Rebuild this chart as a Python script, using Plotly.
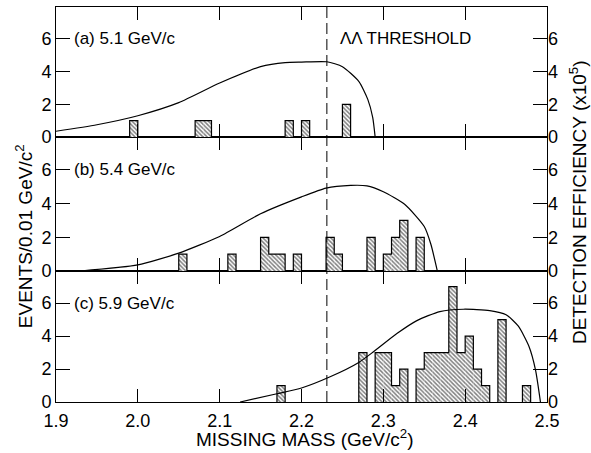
import plotly.graph_objects as go

# ---------------- data ----------------
BIN_W = 0.01
# histogram bins: lower edge of each 0.01 GeV/c^2 bin, and counts
a_bins = [1.99, 2.07, 2.08, 2.18, 2.20, 2.25]
a_counts = [1, 1, 1, 1, 1, 2]
b_bins = [2.05, 2.11, 2.15, 2.16, 2.17, 2.19, 2.23, 2.24, 2.28, 2.30, 2.31, 2.32, 2.34]
b_counts = [1, 1, 2, 1, 1, 1, 2, 1, 2, 1, 2, 3, 2]
c_bins = [2.17, 2.27, 2.29, 2.30, 2.31, 2.32, 2.34, 2.35, 2.36, 2.37, 2.38, 2.39, 2.40,
          2.41, 2.42, 2.44, 2.47]
c_counts = [1, 3, 3, 3, 1, 2, 2, 3, 3, 3, 7, 3, 4, 2, 1, 5, 1]

# detection efficiency curves (x 1e-5)
a_eff_x = [1.9, 1.95, 2.0, 2.05, 2.1, 2.15, 2.18, 2.2, 2.231, 2.25, 2.27, 2.281, 2.287, 2.29]
a_eff_y = [0.35, 0.75, 1.3, 2.1, 3.3, 4.3, 4.55, 4.58, 4.6, 4.3, 3.4, 2.3, 1.2, 0.0]
b_eff_x = [1.93, 2.0, 2.05, 2.1, 2.15, 2.2, 2.23, 2.26, 2.28, 2.30, 2.326, 2.35, 2.358, 2.366]
b_eff_y = [0.0, 0.36, 1.06, 2.05, 3.4, 4.4, 4.92, 5.08, 5.05, 4.7, 3.96, 2.64, 1.6, 0.0]
c_eff_x = [2.125, 2.17, 2.2, 2.235, 2.27, 2.288, 2.317, 2.341, 2.369, 2.398, 2.43, 2.45,
           2.465, 2.478, 2.486, 2.492]
c_eff_y = [0.0, 0.5, 0.85, 1.53, 2.4, 3.05, 4.17, 4.94, 5.49, 5.63, 5.55, 5.3, 4.6, 3.37,
           1.94, 0.0]

panel_labels = ["(a) 5.1 GeV/c", "(b) 5.4 GeV/c", "(c) 5.9 GeV/c"]
threshold = 2.231
threshold_label = "ΛΛ THRESHOLD"
x_ticks = [1.9, 2.0, 2.1, 2.2, 2.3, 2.4, 2.5]
x_ticktext = ["1.9", "2.0", "2.1", "2.2", "2.3", "2.4", "2.5"]
y_ticks = [0, 2, 4, 6]

FONT = "Liberation Sans"
Y_RANGE = [0, 7.95]


def outline(lefts, counts, w=BIN_W):
    xs, ys = [], []
    prev_r = None
    for l, c in sorted(zip(lefts, counts)):
        r = round(l + w, 4)
        if prev_r is None or abs(l - prev_r) > 1e-6:
            if prev_r is not None:
                xs += [prev_r, None]
                ys += [0, None]
            xs.append(l)
            ys.append(0)
        xs += [l, r]
        ys += [c, c]
        prev_r = r
    xs.append(prev_r)
    ys.append(0)
    return xs, ys


fig = go.Figure()

panels = [
    # (bins, counts, eff_x, eff_y, xaxis, yaxis, right yaxis)
    (a_bins, a_counts, a_eff_x, a_eff_y, "x3", "y3", "y6"),
    (b_bins, b_counts, b_eff_x, b_eff_y, "x2", "y2", "y5"),
    (c_bins, c_counts, c_eff_x, c_eff_y, "x", "y", "y4"),
]

for bins, counts, ex, ey, xa, ya, yr in panels:
    centers = [b + BIN_W / 2 for b in bins]
    fig.add_trace(go.Bar(
        x=centers, y=counts, width=BIN_W, xaxis=xa, yaxis=ya,
        marker=dict(color="white", line=dict(width=0),
                    pattern=dict(shape="\\", fgcolor="black", bgcolor="white",
                                 size=3, solidity=0.5)),
        showlegend=False, hoverinfo="skip"))
    ox, oy = outline(bins, counts)
    fig.add_trace(go.Scatter(
        x=ox, y=oy, mode="lines", xaxis=xa, yaxis=ya,
        line=dict(color="black", width=1.2), showlegend=False, hoverinfo="skip"))
    fig.add_trace(go.Scatter(
        x=ex, y=ey, mode="lines", xaxis=xa, yaxis=yr,
        line=dict(color="black", width=1.2, shape="spline", smoothing=0.6),
        showlegend=False, hoverinfo="skip"))

dom_c = [0.0, 0.3316]
dom_b = [0.3316, 0.6709]
dom_a = [0.6709, 1.0]

xcommon = dict(range=[1.9, 2.5], tickvals=x_ticks, ticktext=x_ticktext,
               ticks="inside", ticklen=13, tickwidth=1, tickcolor="black",
               showline=True, linecolor="black", linewidth=1, mirror="ticks",
               showgrid=False, zeroline=False, ticklabelstandoff=2,
               tickfont=dict(family=FONT, size=18, color="black"))
ycommon = dict(range=Y_RANGE, tickvals=y_ticks, ticks="inside", ticklen=14,
               tickwidth=1, tickcolor="black", showline=True, linecolor="black",
               linewidth=1, mirror=True, showgrid=False, zeroline=False,
               tickfont=dict(family=FONT, size=18, color="black"))
yright = dict(range=Y_RANGE, tickvals=y_ticks, ticks="inside", ticklen=14,
              tickwidth=1, tickcolor="black", showline=False, showgrid=False,
              zeroline=False, side="right",
              tickfont=dict(family=FONT, size=18, color="black"))

fig.update_layout(
    width=591, height=453,
    margin=dict(l=56, r=44, t=7, b=51),
    paper_bgcolor="white", plot_bgcolor="white",
    barmode="overlay", showlegend=False,
    xaxis=dict(**xcommon, anchor="y", domain=[0, 1]),
    xaxis2=dict(**xcommon, anchor="y2", matches="x", showticklabels=False),
    xaxis3=dict(**xcommon, anchor="y3", matches="x", showticklabels=False),
    yaxis=dict(**ycommon, domain=dom_c, anchor="x"),
    yaxis2=dict(**ycommon, domain=dom_b, anchor="x2"),
    yaxis3=dict(**ycommon, domain=dom_a, anchor="x3"),
    yaxis4=dict(**yright, overlaying="y", anchor="x"),
    yaxis5=dict(**yright, overlaying="y2", anchor="x2"),
    yaxis6=dict(**yright, overlaying="y3", anchor="x3"),
)

fig.add_shape(type="line", xref="x", yref="paper", x0=threshold, x1=threshold,
              y0=0, y1=1, line=dict(color="black", width=1, dash="11px,5px"))

ann_font = dict(family=FONT, size=17, color="black")
for label, xa, ya in zip(panel_labels, ["x3", "x2", "x"], ["y3", "y2", "y"]):
    fig.add_annotation(text=label, x=1.9196, y=6, xref=xa, yref=ya,
                       xanchor="left", yanchor="middle", showarrow=False,
                       font=ann_font)
fig.add_annotation(text=threshold_label, x=threshold + 0.014, y=6, xref="x3", yref="y3",
                   xanchor="left", yanchor="middle", showarrow=False, font=ann_font)

title_font = dict(family=FONT, size=19, color="black")
fig.add_annotation(text="MISSING MASS (GeV/c<sup>2</sup>)", xref="paper", yref="paper",
                   x=0.507, y=-0.09, xanchor="center", yanchor="middle",
                   showarrow=False, font=title_font)
fig.add_annotation(text="EVENTS/0.01 GeV/c<sup>2</sup>", xref="paper", yref="paper",
                   x=-0.065, y=0.42, xanchor="center", yanchor="middle",
                   textangle=-90, showarrow=False, font=title_font)
fig.add_annotation(text="DETECTION EFFICIENCY (x10<sup>5</sup>)", xref="paper",
                   yref="paper", x=1.063, y=0.506, xanchor="center", yanchor="middle",
                   textangle=-90, showarrow=False, font=title_font)

fig.write_html("out.html", config={"displayModeBar": False},
               post_script="document.body.style.margin='0';"
               "document.body.style.overflow='hidden';")
